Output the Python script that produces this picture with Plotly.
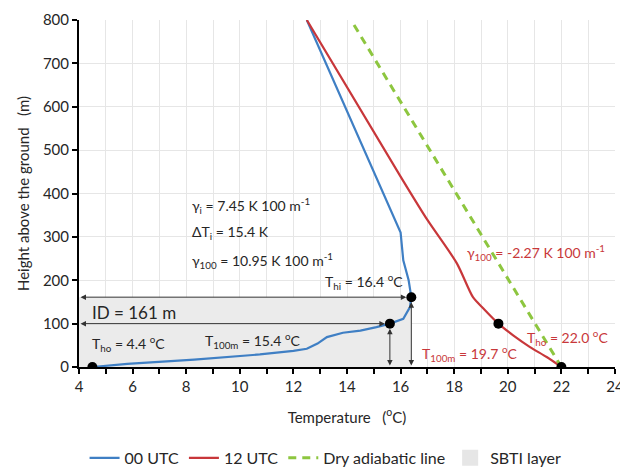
import plotly.graph_objects as go

# ---- data ----
blue_T = [4.5, 5.8, 8.3, 10.75, 12.0, 12.5, 12.9, 13.25, 13.85, 14.5, 15.1, 15.6, 16.1, 16.35, 16.4, 16.3, 16.1, 16.0, 12.5]
blue_h = [0, 7, 17, 29, 37, 42, 54, 69, 79, 84, 92, 100, 111, 138, 161, 200, 246, 310, 800]
red_T = [22.0, 21.45, 20.83, 20.2, 19.65, 19.09, 18.7, 18.1, 17.0, 16.0, 12.5]
red_h = [0, 23, 46, 73, 100, 135, 161, 239, 339, 439, 800]
dry_T = [22.0, 14.15]
dry_h = [0, 800]
blue_pts_T = [4.5, 15.6, 16.4]
blue_pts_h = [0, 100, 161]
red_pts_T = [19.65, 22.0]
red_pts_h = [100, 0]
sbti_top = 161
sbti_T = 16.4
x_ticks = [4, 6, 8, 10, 12, 14, 16, 18, 20, 22, 24]
y_ticks = [0, 100, 200, 300, 400, 500, 600, 700, 800]

BLUE = "#3F7FC4"
RED = "#C8373A"
GREEN = "#8DC63F"
GRAY = "#EBEBEB"
FONT = "Lato"

fig = go.Figure()
fig.add_trace(go.Scatter(x=[4, sbti_T, sbti_T, 4, 4], y=[0, 0, sbti_top, sbti_top, 0],
                         fill="toself", fillcolor=GRAY, line=dict(width=0),
                         mode="lines", showlegend=False, hoverinfo="skip"))
fig.add_trace(go.Scatter(x=blue_T, y=blue_h, mode="lines", name="00 UTC",
                         line=dict(color=BLUE, width=2.2), legendrank=1))
fig.add_trace(go.Scatter(x=red_T, y=red_h, mode="lines", name="12 UTC",
                         line=dict(color=RED, width=2.2, shape="spline", smoothing=0.7), legendrank=2))
fig.add_trace(go.Scatter(x=dry_T, y=dry_h, mode="lines", name="Dry adiabatic line",
                         line=dict(color=GREEN, width=3, dash="8px,6px"), legendrank=3))
fig.add_trace(go.Scatter(x=[None], y=[None], mode="markers", name="SBTI layer",
                         marker=dict(color="#E6E6E6", size=16, symbol="square"), legendrank=4))
fig.add_trace(go.Scatter(x=blue_pts_T + red_pts_T, y=blue_pts_h + red_pts_h, mode="markers",
                         marker=dict(color="black", size=10), showlegend=False))

# arrows
def arrow(x0, y0, x1, y1):
    fig.add_annotation(x=x1, y=y1, ax=x0, ay=y0, xref="x", yref="y", axref="x", ayref="y",
                       showarrow=True, arrowhead=2, arrowside="end+start", arrowsize=1.1,
                       arrowwidth=1, arrowcolor="#333", text="", standoff=5, startstandoff=0)

arrow(4, sbti_top, sbti_T, sbti_top)
arrow(4, 100, blue_pts_T[1], 100)
arrow(blue_pts_T[1], 0, blue_pts_T[1], 100)
arrow(sbti_T, 0, sbti_T, sbti_top)

def txt(x, y, s, color="#262626", size=14, anchor="left"):
    fig.add_annotation(x=x, y=y, xref="x", yref="y", text=s, showarrow=False,
                       xanchor=anchor, yanchor="middle", font=dict(family=FONT, size=size, color=color))

txt(8.14, 373, "γ<sub>i</sub> = 7.45 K 100 m<sup>-1</sup>")
txt(8.14, 311, "ΔT<sub>i</sub> = 15.4 K")
txt(8.14, 246, "γ<sub>100</sub> = 10.95 K 100 m<sup>-1</sup>")
txt(16.15, 198, "T<sub>hi</sub> = 16.4 <sup>o</sup>C", anchor="right")
txt(4.41, 126, "ID = 161 m", size=17)
txt(4.41, 54, "T<sub>ho</sub> = 4.4 <sup>o</sup>C")
txt(8.63, 61, "T<sub>100m</sub> = 15.4 <sup>o</sup>C")
txt(18.4, 265, "γ<sub>100</sub> = -2.27 K 100 m<sup>-1</sup>", color=RED)
txt(20.64, 68, "T<sub>ho</sub> = 22.0 <sup>o</sup>C", color=RED)
txt(16.72, 31, "T<sub>100m</sub> = 19.7 <sup>o</sup>C", color=RED)

# page body has an 8px default margin, so the figure is 8px smaller
fig.update_layout(
    width=620, height=461,
    margin=dict(l=71, r=13, t=12, b=102, autoexpand=False),
    plot_bgcolor="white", paper_bgcolor="white",
    font=dict(family=FONT, size=14, color="#262626"),
    legend=dict(orientation="h", x=0.46, xanchor="center", y=-0.262, yanchor="middle",
                font=dict(size=16), itemwidth=30, traceorder="normal"),
    xaxis=dict(range=[4, 24], tickvals=x_ticks, ticks="outside", ticklen=5, tickwidth=1.5,
               tickcolor="black", showline=True, linecolor="black", linewidth=2,
               showgrid=True, gridcolor="#E6E6E6", gridwidth=1, zeroline=False,
               ticklabeloverflow="allow",
               minor=dict(dtick=1, ticks="outside", ticklen=5, tickwidth=1.5, tickcolor="black",
                          showgrid=True, gridcolor="#E6E6E6"),
               tickfont=dict(size=15),
               title=dict(text="Temperature   (<sup>o</sup>C)", font=dict(size=15), standoff=18)),
    yaxis=dict(range=[0, 800], tickvals=y_ticks, ticks="outside", ticklen=5, tickwidth=1.5,
               tickcolor="black", showline=True, linecolor="black", linewidth=2,
               showgrid=True, gridcolor="#E6E6E6", gridwidth=1, zeroline=False,
               tickfont=dict(size=15),
               title=dict(text="Height above the ground   (m)", font=dict(size=15), standoff=10)),
)

fig.write_html("out.html")
